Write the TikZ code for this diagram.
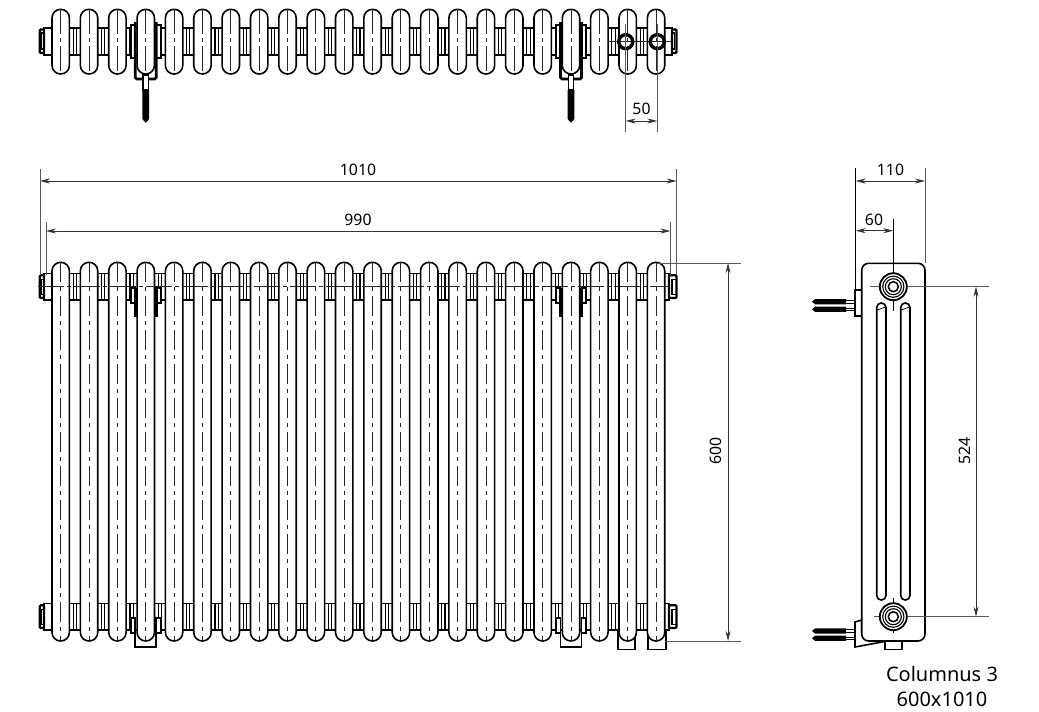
\documentclass[tikz,border=0pt]{standalone}
\usepackage{fontspec}
\setmainfont{Noto Sans}
\usetikzlibrary{arrows.meta}

\tikzset{
  outline/.style={draw=black, line width=1.6pt},
  heavy/.style={draw=black, line width=2.6pt},
  axisline/.style={draw=black!85, line width=0.9pt, dash pattern=on 20pt off 5pt on 4pt off 5pt},
  extline/.style={draw=black!65, line width=0.9pt},
  dimline/.style={draw=black!80, line width=0.9pt, {Stealth[length=10pt,width=5pt]}-{Stealth[length=10pt,width=5pt]}},
  dimtext/.style={inner sep=0pt, font=\fontsize{15.8}{18}\selectfont},
  plugbox/.style={draw=black, line width=2.2pt, rounded corners=1pt, fill=white}
}

\begin{document}
\begin{tikzpicture}[x=1pt,y=-1pt]
\useasboundingbox (0,0) rectangle (1039,712);

% top view
\draw[outline] (44,28) rectangle (672,55);
\foreach \i in {0,...,20} {
  \pgfmathsetmacro\gx{60.7+28.35*\i+14.17}
  \draw[line width=1.1pt] ({\gx-1.6},28) -- ({\gx-1.6},55);
  \draw[line width=1.1pt] ({\gx+1.6},28) -- ({\gx+1.6},55);
}
\foreach \i in {0,...,21} {
  \pgfmathsetmacro\cx{60.7+28.35*\i}
  \draw[outline, fill=white, rounded corners=8.6pt] ({\cx-8.7},9.3) rectangle ({\cx+8.7},74);
  \draw[axisline, dash pattern=on 25pt off 4pt on 4pt off 4pt] (\cx,9.3) -- (\cx,74);
}
\draw[plugbox] (39.8,29.5) rectangle (44,53);
\draw[line width=1.2pt] (41.5,33) rectangle (44,49);
\draw[plugbox] (672,29.5) rectangle (676.5,53);
\draw[line width=1.2pt] (672,33) rectangle (674.5,49);

\foreach \bx in {145.75,571} {
  \draw[outline, fill=white] ({\bx-15},25) rectangle ({\bx-10.5},58);
  \draw[outline, fill=white] ({\bx+10.5},25) rectangle ({\bx+15},58);
  \draw[heavy, rounded corners=1.5pt] ({\bx-10.5},22) -- ({\bx-10.5},79) -- ({\bx+10.5},79) -- ({\bx+10.5},22);
  \draw[outline, fill=white] ({\bx-2.6},75) rectangle ({\bx+2.6},90);
  \fill[black] ({\bx-3.4},90) -- ({\bx+3.4},90) -- ({\bx+3.4},119) -- (\bx,122.7) -- ({\bx-3.4},119) -- cycle;
}

\draw[axisline, solid] (608,41.7) -- (671,41.7);
\draw[black, line width=3.4pt] (625.7,41.7) circle (7);
\draw[black, line width=3.4pt] (657.3,41.7) circle (7);

\coordinate (a50) at (625.7,121);
\coordinate (b50) at (657.3,121);
\draw[extline] (625.7,24) -- (625.7,132);
\draw[extline] (657.3,24) -- (657.3,132);
\draw[dimline] (a50) -- (b50);
\node (l50) at (641.5,109) [dimtext] {50};

% front view
\foreach \hy in {273.3,603.3} {
  \draw[outline] (44,\hy) rectangle (669,{\hy+26.7});
  \foreach \i in {0,...,20} {
    \pgfmathsetmacro\gx{60.7+28.35*\i+14.17}
    \draw[line width=1.1pt] ({\gx-1.6},\hy) -- ({\gx-1.6},{\hy+26.7});
    \draw[line width=1.1pt] ({\gx+1.6},\hy) -- ({\gx+1.6},{\hy+26.7});
  }
  \draw[plugbox] (39.8,{\hy+2}) rectangle (44,{\hy+24.7});
  \draw[line width=1.2pt] (41.5,{\hy+6}) rectangle (44,{\hy+21});
  \draw[plugbox] (669,{\hy+2}) rectangle (676.5,{\hy+24.7});
  \draw[line width=1.2pt] (672,{\hy+6}) rectangle (676.5,{\hy+21});
}
\draw[outline, fill=white] (618,630) rectangle (635,649.3);
\draw[outline, fill=white] (648,630) rectangle (666,649.3);
\foreach \i in {0,...,21} {
  \pgfmathsetmacro\cx{60.7+28.35*\i}
  \draw[outline, fill=white, rounded corners=8.6pt] ({\cx-8.7},262.3) rectangle ({\cx+8.7},641);
  \draw[axisline] (\cx,262.3) -- (\cx,641);
}
\foreach \bx in {145.75,571} {
  \draw[outline, fill=white] ({\bx-15},288) rectangle ({\bx-10.5},303);
  \draw[outline, fill=white] ({\bx+10.5},288) rectangle ({\bx+15},303);
  \draw[heavy] ({\bx-10.5},288) -- ({\bx-10.5},316.7);
  \draw[heavy] ({\bx+10.5},288) -- ({\bx+10.5},316.7);
  \draw[outline, fill=white] ({\bx-15},618) rectangle ({\bx-10.5},633);
  \draw[outline, fill=white] ({\bx+10.5},618) rectangle ({\bx+15},633);
  \draw[outline, line width=1.8pt] ({\bx-10.5},618) -- ({\bx-10.5},646.7) -- ({\bx+10.5},646.7) -- ({\bx+10.5},618);
}
\draw[axisline, dash pattern=on 26pt off 3pt on 4pt off 3pt] (38,286.7) -- (669,286.7);

\coordinate (a1010) at (40,181);
\coordinate (b1010) at (676.7,181);
\draw[extline] (40,169) -- (40,275);
\draw[extline] (676.7,169) -- (676.7,275);
\draw[dimline] (a1010) -- (b1010);
\node (l1010) at (358,169.5) [dimtext] {1010};

\coordinate (a990) at (46,231);
\coordinate (b990) at (670.5,231);
\draw[extline] (46,222) -- (46,275);
\draw[extline] (670.5,222) -- (670.5,275);
\draw[dimline] (a990) -- (b990);
\node (l990) at (358,219.5) [dimtext] {990};

\coordinate (a600) at (728,263);
\coordinate (b600) at (728,641);
\draw[extline] (657,263) -- (741,263);
\draw[extline] (665,641) -- (741,641);
\draw[dimline] (a600) -- (b600);
\node (l600) at (716,451) [dimtext, rotate=90] {600};

% side view
\draw[outline] (855,290) rectangle (861.7,316);
\foreach \sy in {301.7,309.3,631,638.3} {
  \draw[line width=0.8pt] (846,{\sy-1.3}) -- (855,{\sy-1.3});
  \draw[line width=0.8pt] (846,{\sy+1.3}) -- (855,{\sy+1.3});
  \fill[black] (812,\sy) -- (815,{\sy-2.6}) -- (846,{\sy-2.6}) -- (846,{\sy+2.6}) -- (815,{\sy+2.6}) -- cycle;
}
\draw[outline, fill=white] (861.7,620) -- (855,622) -- (855,647) -- (882,642) -- (861.7,632) -- cycle;
\draw[outline, fill=white] (885,636) rectangle (901.7,649.3);
\draw[outline, fill=white, rounded corners=7pt] (861.7,263.3) rectangle (925,641);
\draw[outline, rounded corners=4.5pt] (876.7,303) rectangle (886,600);
\draw[outline, rounded corners=4.5pt] (900.7,303) rectangle (910,600);
\draw[line width=0.8pt] (876.7,310) -- (886,307);
\draw[line width=0.8pt] (900.7,310) -- (910,307);

\coordinate (a110) at (855.7,181);
\coordinate (b110) at (925,181);
\draw[extline, black] (855.7,168) -- (855.7,290);
\draw[extline] (925,168) -- (925,263);
\draw[dimline] (a110) -- (b110);
\node (l110) at (890.5,169.5) [dimtext] {110};

\coordinate (a60) at (855.7,230.7);
\coordinate (b60) at (893.3,230.7);
\draw[extline, black] (893.3,219) -- (893.3,311);
\draw[dimline] (a60) -- (b60);
\node (l60) at (874,219.5) [dimtext] {60};

\coordinate (a524) at (976,286.7);
\coordinate (b524) at (976,616.7);
\draw[extline] (870,286.7) -- (989,286.7);
\draw[extline] (874,616.7) -- (989,616.7);
\draw[dimline] (a524) -- (b524);
\node (l524) at (965,451) [dimtext, rotate=90] {524};
\draw[extline, black] (893.3,598) -- (893.3,633);

\foreach \hy in {286.7,616.7} {
  \draw[fill=white, line width=1.8pt] (893.3,\hy) circle (13.5);
  \draw[line width=1.1pt] (893.3,\hy) circle (10.6);
  \draw[line width=1.1pt] (893.3,\hy) circle (8);
  \draw[line width=1.5pt] (893.3,\hy) circle (5);
}

\node (caption) at (942,686.5) [dimtext, align=center, font=\fontsize{20}{25}\selectfont] {Columnus 3\\600x1010};
\end{tikzpicture}
\end{document}
